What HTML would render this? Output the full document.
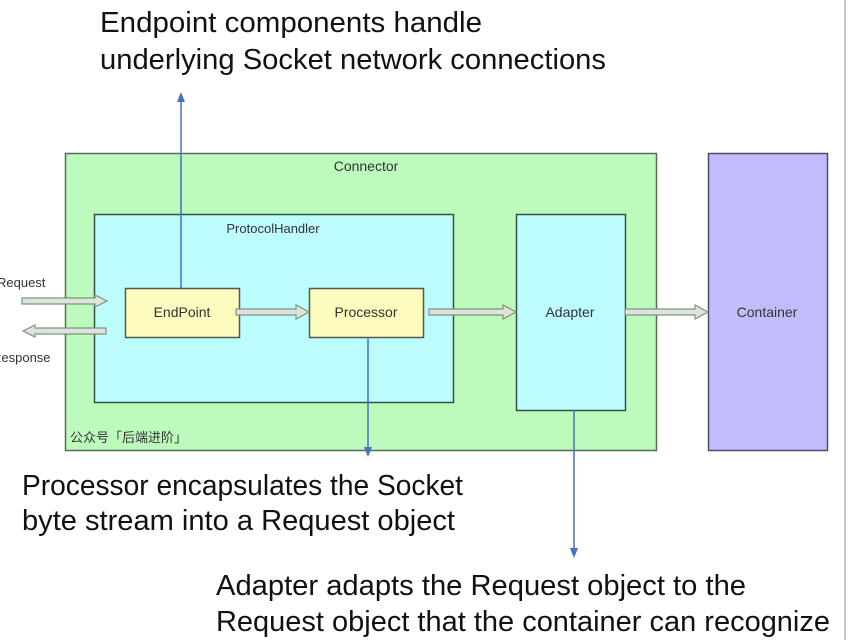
<!DOCTYPE html>
<html><head><meta charset="utf-8"><style>
html,body{margin:0;padding:0;background:#fff;}
svg{display:block;}
</style></head><body>
<svg width="848" height="640" xmlns="http://www.w3.org/2000/svg" font-family="'Liberation Sans','Noto Sans CJK SC',sans-serif">
<defs>
<marker id="b" markerWidth="10" markerHeight="10" refX="5" refY="5" orient="auto" markerUnits="userSpaceOnUse"><path d="M0,1 L10,5 L0,9 Z" fill="#4472c4"/></marker>
</defs>
<line x1="845" y1="0" x2="845" y2="640" stroke="#c8c8c8" stroke-width="2"/>
<rect x="65.5" y="153.5" width="591" height="297" fill="#bdfbbd" stroke="#556b55" stroke-width="1.5"/>
<text x="366" y="171" font-size="14" text-anchor="middle" fill="#333">Connector</text>
<text x="70" y="442" font-size="13" fill="#333">公众号「后端进阶」</text>
<rect x="94.5" y="214.5" width="359" height="188" fill="#bcfcfd" stroke="#3d4d4d" stroke-width="1.5"/>
<text x="273" y="233" font-size="13" text-anchor="middle" fill="#333">ProtocolHandler</text>
<rect x="516.5" y="214.5" width="109" height="196" fill="#bcfcfd" stroke="#3d4d4d" stroke-width="1.5"/>
<text x="570" y="317" font-size="14" text-anchor="middle" fill="#333">Adapter</text>
<rect x="708.5" y="153.5" width="119" height="297" fill="#c1bdfc" stroke="#4d4d66" stroke-width="1.5"/>
<text x="767" y="317" font-size="14" text-anchor="middle" fill="#333">Container</text>
<rect x="125.5" y="288.5" width="114" height="49" fill="#fdfbbd" stroke="#555" stroke-width="1.5"/>
<text x="182" y="317" font-size="14" text-anchor="middle" fill="#333">EndPoint</text>
<rect x="309.5" y="288.5" width="114" height="49" fill="#fdfbbd" stroke="#555" stroke-width="1.5"/>
<text x="366" y="317" font-size="14" text-anchor="middle" fill="#333">Processor</text>
<g fill="#dde3dd" stroke="#7f947f" stroke-width="1.2">
<path d="M22,298 L95,298 L95,295 L107,301 L95,307 L95,304 L22,304 Z"/>
<path d="M106,334 L35,334 L35,337 L23,331 L35,325 L35,328 L106,328 Z"/>
<path d="M236,309 L296,309 L296,305 L309,312 L296,319 L296,315 L236,315 Z"/>
<path d="M429,309 L503,309 L503,305 L516,312 L503,319 L503,315 L429,315 Z"/>
<path d="M625,309 L695,309 L695,305 L708,312 L695,319 L695,315 L625,315 Z"/>
</g>
<text x="-3" y="287" font-size="13" fill="#333">Request</text>
<text x="-8" y="362" font-size="13" fill="#333">Response</text>
<line x1="181" y1="288" x2="181" y2="97" stroke="#4472c4" stroke-width="1.5" marker-end="url(#b)"/>
<line x1="368" y1="337" x2="368" y2="452" stroke="#4472c4" stroke-width="1.5" marker-end="url(#b)"/>
<line x1="574" y1="410" x2="574" y2="553" stroke="#4472c4" stroke-width="1.5" marker-end="url(#b)"/>
<g font-size="29" fill="#111">
<text x="100" y="32" textLength="382" lengthAdjust="spacingAndGlyphs">Endpoint components handle</text>
<text x="100" y="69" textLength="506" lengthAdjust="spacingAndGlyphs">underlying Socket network connections</text>
<text x="22" y="495" textLength="441" lengthAdjust="spacingAndGlyphs">Processor encapsulates the Socket</text>
<text x="22" y="530" textLength="433" lengthAdjust="spacingAndGlyphs">byte stream into a Request object</text>
<text x="216" y="595" textLength="530" lengthAdjust="spacingAndGlyphs">Adapter adapts the Request object to the</text>
<text x="216" y="631" textLength="614" lengthAdjust="spacingAndGlyphs">Request object that the container can recognize</text>
</g>
</svg>
</body></html>
